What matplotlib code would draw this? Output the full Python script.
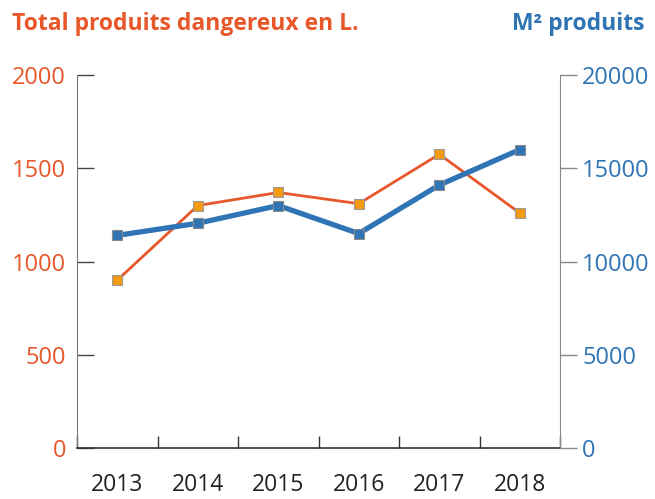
import matplotlib.pyplot as plt

plt.rcParams['font.family'] = ['Open Sans', 'DejaVu Sans']

years = ['2013', '2014', '2015', '2016', '2017', '2018']
produits_dangereux = [900, 1300, 1370, 1310, 1575, 1260]
m2_produits = [11400, 12050, 13000, 11500, 14100, 16000]

orange = '#E8572A'
orange_fill = '#F39A12'
blue = '#2F74B5'

fig = plt.figure(figsize=(6.55, 4.99), dpi=100)
ax = fig.add_axes([0.1176, 0.1022, 0.855 - 0.1176, 0.8497 - 0.1022])
ax2 = ax.twinx()

x = list(range(len(years)))
ax.plot(x, produits_dangereux, color=orange, lw=2, marker='s', ms=7,
        mfc=orange_fill, mec='#9a9a9a', mew=0.8, zorder=3)
ax2.plot(x, m2_produits, color=blue, lw=3.8, marker='s', ms=7,
         mfc=blue, mec='#8a8a8a', mew=0.8, zorder=3)

ax.set_xlim(-0.5, 5.5)
ax.set_ylim(0, 2000)
ax2.set_ylim(0, 20000)

ax.set_yticks([0, 500, 1000, 1500, 2000])
ax2.set_yticks([0, 5000, 10000, 15000, 20000])

ax.set_xticks(x)
ax.set_xticklabels(years)
ax.set_xticks([i + 0.5 for i in range(-1, 6)], minor=True)
ax.tick_params(axis='x', which='major', length=0, pad=18, labelsize=16.5, labelcolor='#222222')
ax.tick_params(axis='x', which='minor', direction='in', length=9, width=1, color='#333333')
ax.tick_params(axis='y', direction='in', length=12, width=1, color='#444444',
               labelsize=17, labelcolor=orange, pad=8)
ax2.tick_params(axis='y', direction='out', length=12, width=1, color='#888888',
                labelsize=17, labelcolor=blue, pad=4)

for a in (ax, ax2):
    a.spines['top'].set_visible(False)
ax.spines['right'].set_visible(False)
ax2.spines['left'].set_visible(False)
ax2.spines['bottom'].set_visible(False)
ax.spines['left'].set_color('#777777')
ax.spines['bottom'].set_color('#333333')
ax.spines['bottom'].set_linewidth(1.2)
ax2.spines['right'].set_color('#888888')

fig.text(12 / 655, 1 - 24 / 499, 'Total produits dangereux en L.', color=orange,
         fontsize=16.5, fontweight='bold', ha='left', va='center')
fig.text(645 / 655, 1 - 24 / 499, 'M² produits', color=blue,
         fontsize=16.5, fontweight='bold', ha='right', va='center')

fig.savefig('out.png', dpi=100)
